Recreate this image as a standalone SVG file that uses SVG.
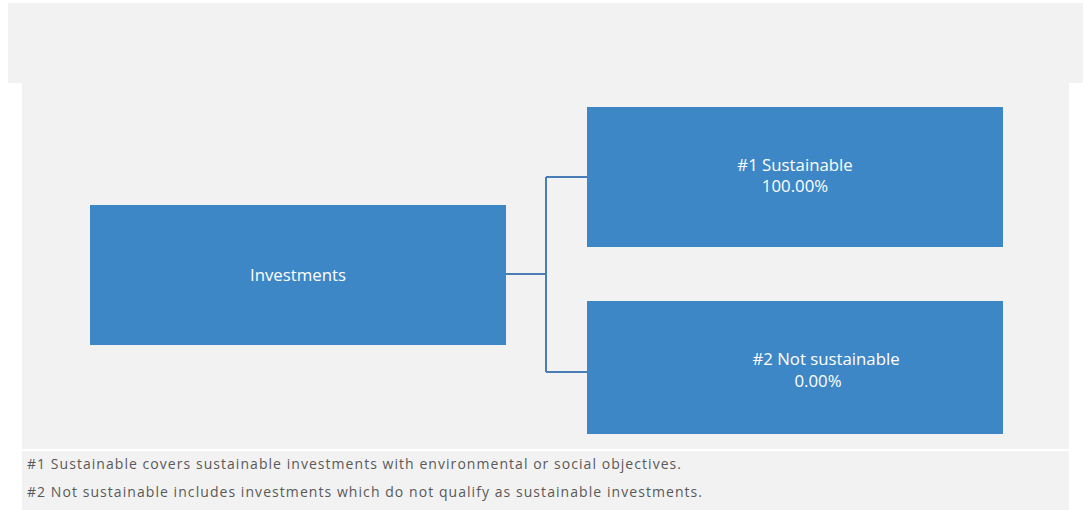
<svg xmlns="http://www.w3.org/2000/svg" width="1084" height="510" viewBox="0 0 1084 510">
<style>
.bg{fill:#f2f2f2}
.box{fill:#3d87c6}
.lbl{font-family:"Open Sans","Liberation Sans",sans-serif;font-size:16.8px;fill:#ffffff;text-anchor:middle}
.note{font-family:"Open Sans","Liberation Sans",sans-serif;font-size:14px;fill:#595959}
.conn{fill:none;stroke:#4a7db5;stroke-width:2}
</style>
<rect width="1084" height="510" fill="#ffffff"/>
<rect class="bg" x="8" y="3" width="1075" height="80"/>
<rect class="bg" x="22" y="83" width="1047" height="366"/>
<rect class="bg" x="22" y="451" width="1047" height="59"/>
<g id="connectors">
<path class="conn" d="M506 274 H546 M546 177 V372 M546 177 H587 M546 372 H587"/>
</g>
<g id="investments">
<rect class="box" x="90" y="205" width="416" height="140"/>
<text class="lbl" x="298" y="281">Investments</text>
</g>
<g id="sustainable">
<rect class="box" x="587" y="107" width="416" height="140"/>
<text class="lbl" x="795" y="171">#1 Sustainable</text>
<text class="lbl" x="795" y="192">100.00%</text>
</g>
<g id="not-sustainable">
<rect class="box" x="587" y="301" width="416" height="133"/>
<text class="lbl" x="826" y="365">#2 Not sustainable</text>
<text class="lbl" x="818" y="387">0.00%</text>
</g>
<g id="notes">
<text class="note" x="27" y="469" textLength="654" lengthAdjust="spacing">#1 Sustainable covers sustainable investments with environmental or social objectives.</text>
<text class="note" x="27" y="497" textLength="675" lengthAdjust="spacing">#2 Not sustainable includes investments which do not qualify as sustainable investments.</text>
</g>
</svg>
